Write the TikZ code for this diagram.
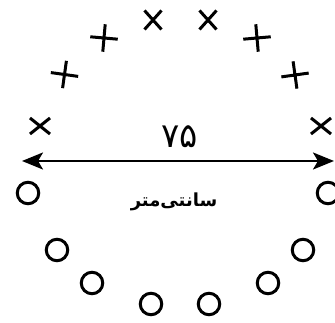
\documentclass[tikz,border=0pt]{standalone}
\usepackage{fontspec}
\usetikzlibrary{shapes.misc,arrows.meta}
\newfontfamily\arabicfont[Script=Arabic]{DejaVu Sans}
\TeXXeTstate=1
\tikzset{
	xmark/.style={cross out,draw,line width=3pt,minimum width=14pt,minimum height=16pt,inner sep=0pt},
	pmark/.style={cross out,draw,line width=3pt,minimum size=16.5pt,inner sep=0pt,rotate=#1},
	omark/.style={circle,draw,line width=3pt,minimum size=21.5pt,inner sep=0pt}
}
\begin{document}
\begin{tikzpicture}[x=1pt,y=1pt]
		\useasboundingbox (0,0) rectangle (335,323);
		% upper arc
		\node[xmark,minimum width=17pt,minimum height=13pt] (x1) at (40,197) {};
		\node[pmark=37] (p1) at (64.5,248.5) {};
		\node[pmark=40] (p2) at (104,285) {};
		\node[xmark] (x2) at (153,303) {};
		\node[xmark] (x3) at (208,303) {};
		\node[pmark=50] (p3) at (257,285) {};
		\node[pmark=53] (p4) at (295,248) {};
		\node[xmark,minimum width=17pt,minimum height=13pt] (x4) at (321,197) {};
		% lower arc
		\node[omark] (o1) at (28,130) {};
		\node[omark] (o2) at (57,73) {};
		\node[omark] (o3) at (92,40) {};
		\node[omark] (o4) at (151,19) {};
		\node[omark] (o5) at (209,19) {};
		\node[omark] (o6) at (268,40) {};
		\node[omark] (o7) at (303,73) {};
		\node[omark] (o8) at (328,130) {};
		% width
		\coordinate (wl) at (22,162);
		\coordinate (wr) at (334,162);
		\draw[line width=2.4pt,{Stealth[length=21pt,width=17pt,inset=5pt]}-{Stealth[length=21pt,width=17pt,inset=5pt]}] (wl) -- (wr);
		\node (num) at (179.5,186) {\fontsize{34}{40}\selectfont\arabicfont\beginR ۷۵\endR};
		\node (unit) at (174,121) {\fontsize{18}{22}\selectfont\arabicfont\bfseries\beginR سانتی‌متر\endR};
	\end{tikzpicture}
\end{document}
